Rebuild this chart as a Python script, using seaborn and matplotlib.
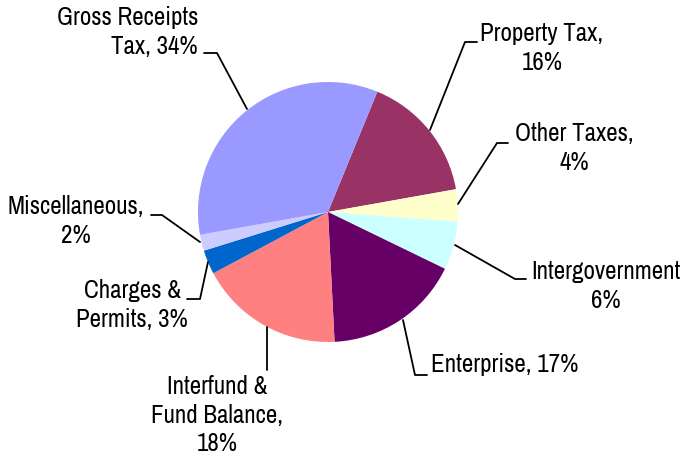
import matplotlib
matplotlib.use('AGG')
import matplotlib.pyplot as plt
import seaborn as sns

# slice order: clockwise from the Property Tax edge
categories = ["Property Tax", "Other Taxes", "Intergovernment", "Enterprise",
              "Interfund & Fund Balance", "Charges & Permits", "Miscellaneous",
              "Gross Receipts Tax"]
shares = [16, 4, 6, 17, 18, 3, 2, 34]
colors = ["#993366", "#FFFFCC", "#CCFFFF", "#660066",
          "#FF8080", "#0066CC", "#CCCCFF", "#9999FF"]
label_texts = ["Property Tax,\n16%", "Other Taxes,\n4%", "Intergovernment\n6%",
               "Enterprise, 17%", "Interfund &\nFund Balance,\n18%",
               "Charges &\nPermits, 3%", "Miscellaneous,\n2%",
               "Gross Receipts\nTax, 34%"]

sns.set_theme(style="white")
plt.rcParams['font.family'] = ['Archivo Narrow', 'Liberation Sans', 'DejaVu Sans']

fig = plt.figure(figsize=(6.84, 4.58), dpi=100)
ax = fig.add_axes([0, 0, 1, 1])

# y axis is inverted (pixel coords), so counterclock=True draws clockwise
ax.pie(shares, colors=colors, startangle=-67.7, counterclock=True,
       center=(328, 212), radius=130, wedgeprops=dict(linewidth=0),
       frame=True)
ax.set_xlim(0, 684)
ax.set_ylim(458, 0)
ax.set_aspect("equal")
ax.axis("off")

# label text position, alignment, leader polyline
label_layout = [
    ((542, 48), "center", [(430, 130), (465, 42), (477, 42)]),
    ((574, 148), "center", [(458, 204), (497, 143), (508, 143)]),
    ((606, 286), "center", [(455, 245), (515, 279), (526, 279)]),
    ((505, 365), "center", [(403, 320), (415, 375), (427, 375)]),
    ((217, 415), "center", [(267, 327), (267, 370)]),
    ((132, 305), "center", [(208, 262), (200, 299), (187, 299)]),
    ((76, 221), "center", [(200, 242), (162, 215), (151, 215)]),
    ((198, 32), "right", [(247, 109), (217, 53), (204, 53)]),
]

for txt, (pos, ha, line) in zip(label_texts, label_layout):
    ax.text(pos[0], pos[1], txt, ha=ha, va="center", multialignment=ha,
            fontsize=18, color="black", linespacing=1.3)
    xs = [p[0] for p in line]
    ys = [p[1] for p in line]
    ax.plot(xs, ys, color="black", linewidth=1.3)

fig.savefig("out.png", dpi=100)
